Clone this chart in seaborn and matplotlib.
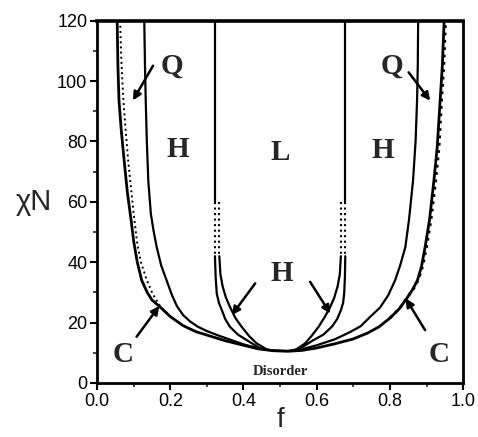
import matplotlib
matplotlib.use("Agg")
import matplotlib.pyplot as plt
import seaborn as sns
import pandas as pd

# ---------------- data ----------------
# outer order-disorder curve (solid)
odt_f = [0.055, 0.057, 0.060, 0.066, 0.074, 0.083, 0.093, 0.100, 0.110, 0.122, 0.137, 0.150,
         0.172, 0.200, 0.235, 0.270, 0.310, 0.350, 0.400, 0.440, 0.480, 0.520, 0.560, 0.600,
         0.650, 0.700, 0.740, 0.770, 0.800, 0.825, 0.846, 0.862, 0.875, 0.886, 0.896, 0.908,
         0.920, 0.929, 0.937, 0.943, 0.948]
odt_chiN = [120, 105, 93.5, 84, 73.7, 63, 54, 47, 40, 34, 30, 27.5,
            25.2, 22, 19, 17, 15.5, 14, 12.5, 11.3, 10.7, 10.5, 10.8, 11.6,
            13, 14.6, 16.6, 18.6, 21.5, 24.5, 28, 31, 34, 38.5, 45, 54,
            67, 78, 93.5, 105, 120]

# dotted curves next to the outer curve
dotL_f = [0.063, 0.066, 0.072, 0.078, 0.085, 0.094, 0.102, 0.110, 0.120, 0.136, 0.152, 0.172, 0.200]
dotL_chiN = [120, 108, 93.5, 84, 73.7, 63, 54, 46, 40, 34, 29.5, 25.5, 22]
dotR_f = [0.800, 0.828, 0.848, 0.866, 0.879, 0.890, 0.900, 0.912, 0.925, 0.934, 0.941, 0.947, 0.952]
dotR_chiN = [21.5, 25, 28.5, 31.5, 34.5, 39, 45, 54, 67, 78, 93.5, 105, 120]

# C/H boundary (solid)
ch_f = [0.129, 0.131, 0.133, 0.136, 0.140, 0.147, 0.155, 0.163, 0.175, 0.190, 0.205, 0.218,
        0.235, 0.255, 0.276, 0.300, 0.330, 0.360, 0.400, 0.440, 0.480, 0.520, 0.560, 0.600,
        0.650, 0.690, 0.720, 0.745, 0.773, 0.795, 0.814, 0.828, 0.842, 0.852, 0.863, 0.870,
        0.874, 0.876, 0.877]
ch_chiN = [120, 105, 93.5, 80, 67, 56, 50, 45, 39, 34, 29, 25.5,
           22.5, 20.3, 18.6, 17.2, 15.8, 14.5, 12.8, 11.5, 10.8, 10.6, 11.2, 12.5,
           14.5, 16.8, 18.8, 21.8, 25, 29, 34, 39, 45, 54, 67, 80,
           93.5, 105, 120]

# H/L boundaries: vertical solid parts, dotted parts, lower curves
hlL_top_f = [0.322, 0.322]
hlL_top_chiN = [120, 60]
hlR_top_f = [0.678, 0.678]
hlR_top_chiN = [120, 60]
hlL_dot1_f = [0.322, 0.322]
hlL_dot2_f = [0.334, 0.334]
hlR_dot1_f = [0.666, 0.666]
hlR_dot2_f = [0.678, 0.678]
hl_dot_chiN = [60, 42]

inL1_f = [0.322, 0.324, 0.327, 0.333, 0.341, 0.350, 0.363, 0.385, 0.409, 0.430, 0.445, 0.470]
inL1_chiN = [42, 35, 29.6, 26.5, 24.1, 21.2, 18.6, 16.0, 14.2, 12.6, 11.5, 10.9]
inL2_f = [0.334, 0.337, 0.343, 0.352, 0.363, 0.378, 0.395, 0.415, 0.436, 0.460]
inL2_chiN = [42, 36, 32, 28.3, 25.2, 21.5, 18.6, 15.6, 13.1, 11.4]
inR1_f = [0.678, 0.677, 0.675, 0.672, 0.666, 0.656, 0.641, 0.618, 0.591, 0.570, 0.555, 0.530]
inR1_chiN = [42, 35, 29.6, 26.5, 24.1, 21.2, 18.6, 16.0, 14.2, 12.6, 11.5, 10.7]
inR2_f = [0.666, 0.663, 0.657, 0.648, 0.635, 0.620, 0.605, 0.586, 0.568, 0.545]
inR2_chiN = [42, 36, 32, 28.3, 24.7, 21.5, 18.6, 15.6, 13.1, 11.2]

# tick labels
xticks = [0.0, 0.2, 0.4, 0.6, 0.8, 1.0]
xticklabels = ["0.0", "0.2", "0.4", "0.6", "0.8", "1.0"]
yticks = [0, 20, 40, 60, 80, 100, 120]
yticklabels = ["0", "20", "40", "60", "80", "100", "120"]

# region labels: text, f, chiN
region_text = ["Q", "H", "L", "H", "Q", "H", "C", "C"]
region_f = [0.205, 0.221, 0.500, 0.781, 0.805, 0.505, 0.072, 0.933]
region_chiN = [105, 77.4, 76.4, 77.0, 105, 36.2, 9.3, 9.3]

# arrows: (tail f, tail chiN, head f, head chiN)
arrow_tail_f = [0.153, 0.851, 0.432, 0.582, 0.108, 0.896]
arrow_tail_chiN = [105.1, 102.9, 33.0, 33.5, 15.3, 17.5]
arrow_head_f = [0.098, 0.910, 0.368, 0.637, 0.170, 0.843]
arrow_head_chiN = [93.6, 93.5, 22.5, 23.0, 25.5, 28.0]

# ---------------- plotting ----------------
sns.set_style("ticks")
plt.rcParams["font.family"] = ["Liberation Sans", "DejaVu Sans"]

fig = plt.figure(figsize=(4.78, 4.37), dpi=100)
ax = fig.add_axes([0.203, 0.1236, 0.766, 0.829])

def draw(fs, ys, style="-", lw=1.6):
    df = pd.DataFrame({"f": fs, "chiN": ys})
    sns.lineplot(data=df, x="f", y="chiN", sort=False, estimator=None, ax=ax,
                 color="black", linewidth=lw, linestyle=style)

draw(odt_f, odt_chiN, lw=2.0)
draw(ch_f, ch_chiN, lw=1.6)
draw(dotL_f, dotL_chiN, ":", lw=1.4)
draw(dotR_f, dotR_chiN, ":", lw=2.0)
draw(hlL_top_f, hlL_top_chiN, lw=1.6)
draw(hlR_top_f, hlR_top_chiN, lw=1.6)
for fs in (hlL_dot1_f, hlL_dot2_f, hlR_dot1_f, hlR_dot2_f):
    draw(fs, hl_dot_chiN, ":", lw=1.5)
draw(inL1_f, inL1_chiN, lw=1.6)
draw(inL2_f, inL2_chiN, lw=1.6)
draw(inR1_f, inR1_chiN, lw=1.6)
draw(inR2_f, inR2_chiN, lw=1.6)

serif = ["Liberation Serif", "DejaVu Serif"]
for t, fx, fy in zip(region_text, region_f, region_chiN):
    ax.text(fx, fy, t, family=serif, fontweight="bold", fontsize=21,
            ha="center", va="center")
ax.text(0.5, 3.7, "Disorder", family=serif, fontweight="bold", fontsize=10.5,
        ha="center", va="center")

for tx, ty, hx, hy in zip(arrow_tail_f, arrow_tail_chiN, arrow_head_f, arrow_head_chiN):
    ax.annotate("", xy=(hx, hy), xytext=(tx, ty),
                arrowprops=dict(arrowstyle="-|>", color="black", lw=1.8,
                                mutation_scale=12, shrinkA=0, shrinkB=0))

ax.set_xlim(0, 1)
ax.set_ylim(0, 120)
ax.set_xticks(xticks)
ax.set_xticklabels(xticklabels)
ax.set_yticks(yticks)
ax.set_yticklabels(yticklabels)
ax.set_xticks([0.1, 0.3, 0.5, 0.7, 0.9], minor=True)
ax.set_yticks([10, 30, 50, 70, 90, 110], minor=True)
ax.tick_params(which="major", direction="out", length=5, width=1.5, labelsize=13,
               colors="black", pad=2)
ax.tick_params(which="minor", direction="out", length=3, width=1.2)
for s in ax.spines.values():
    s.set_visible(True)
    s.set_linewidth(2.0)
    s.set_color("black")
ax.spines["top"].set_linewidth(2.6)

ax.set_xlabel("f", fontsize=20, labelpad=-2)
ax.set_ylabel("χN", fontsize=21, rotation=0, va="center", ha="center")
ax.yaxis.set_label_coords(-0.172, 0.5)

fig.savefig("out.png", dpi=100)
